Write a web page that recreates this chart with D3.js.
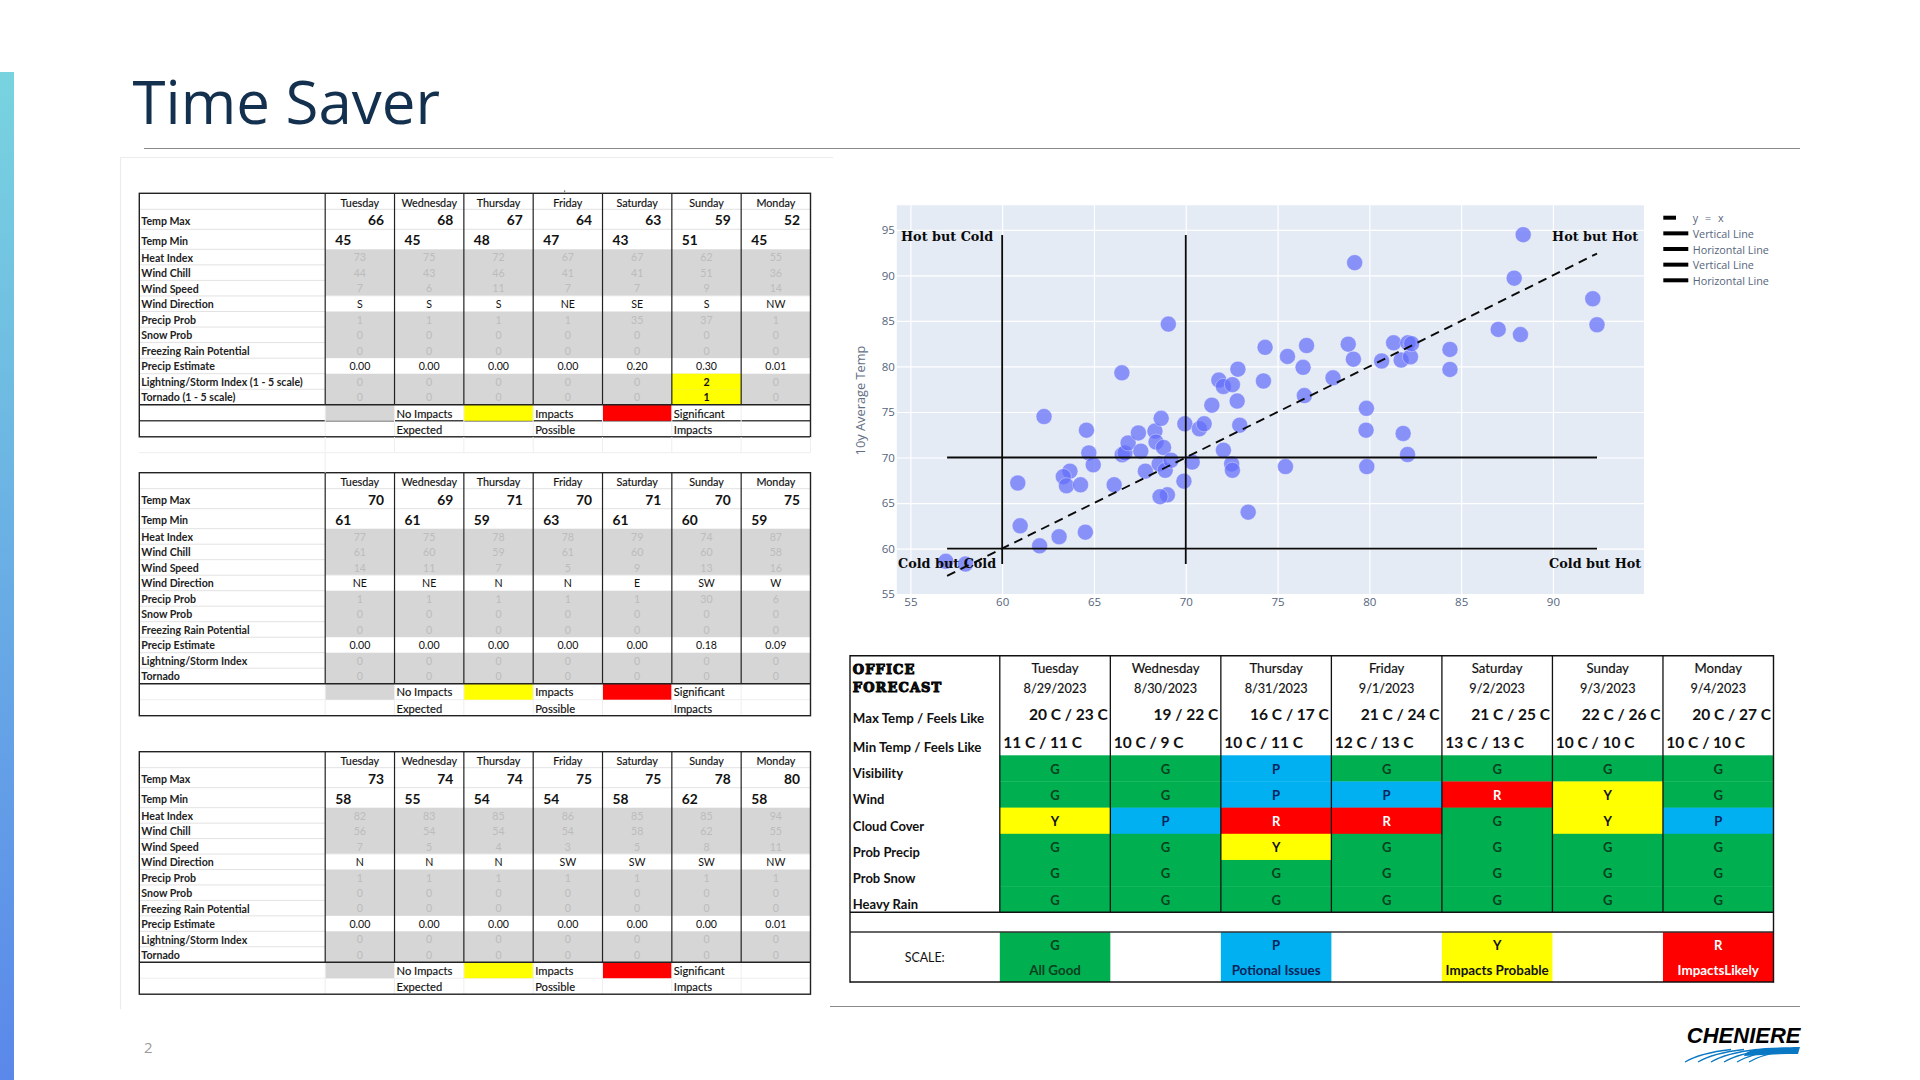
<!DOCTYPE html>
<html>
<head>
<meta charset="utf-8">
<title>Time Saver</title>
<script src="https://cdn.jsdelivr.net/npm/d3@7/dist/d3.min.js"></script>
<style>
html,body{margin:0;padding:0;background:#fff;overflow:hidden}
svg{display:block}
text{white-space:pre}
</style>
</head>
<body>
<svg id="c" width="1920" height="1080" viewBox="0 0 1920 1080"></svg>
<script>
// ---------- weekly tables ----------
const days = ["Tuesday","Wednesday","Thursday","Friday","Saturday","Sunday","Monday"];
const rowLabelsA = ["Heat Index","Wind Chill","Wind Speed","Wind Direction","Precip Prob","Snow Prob","Freezing Rain Potential","Precip Estimate","Lightning/Storm Index (1 - 5 scale)","Tornado (1 - 5 scale)"];
const rowLabelsB = ["Heat Index","Wind Chill","Wind Speed","Wind Direction","Precip Prob","Snow Prob","Freezing Rain Potential","Precip Estimate","Lightning/Storm Index","Tornado"];

const w1Max = [66,68,67,64,63,59,52];
const w1Min = [45,45,48,47,43,51,45];
const w1Heat = [73,75,72,67,67,62,55];
const w1Chill = [44,43,46,41,41,51,36];
const w1Speed = [7,6,11,7,7,9,14];
const w1Dir = ["S","S","S","NE","SE","S","NW"];
const w1Prob = [1,1,1,1,35,37,1];
const w1Snow = [0,0,0,0,0,0,0];
const w1Frz = [0,0,0,0,0,0,0];
const w1Est = ["0.00","0.00","0.00","0.00","0.20","0.30","0.01"];
const w1Light = [0,0,0,0,0,2,0];
const w1Torn = [0,0,0,0,0,1,0];

const w2Max = [70,69,71,70,71,70,75];
const w2Min = [61,61,59,63,61,60,59];
const w2Heat = [77,75,78,78,79,74,87];
const w2Chill = [61,60,59,61,60,60,58];
const w2Speed = [14,11,7,5,9,13,16];
const w2Dir = ["NE","NE","N","N","E","SW","W"];
const w2Prob = [1,1,1,1,1,30,6];
const w2Snow = [0,0,0,0,0,0,0];
const w2Frz = [0,0,0,0,0,0,0];
const w2Est = ["0.00","0.00","0.00","0.00","0.00","0.18","0.09"];
const w2Light = [0,0,0,0,0,0,0];
const w2Torn = [0,0,0,0,0,0,0];

const w3Max = [73,74,74,75,75,78,80];
const w3Min = [58,55,54,54,58,62,58];
const w3Heat = [82,83,85,86,85,85,94];
const w3Chill = [56,54,54,54,58,62,55];
const w3Speed = [7,5,4,3,5,8,11];
const w3Dir = ["N","N","N","SW","SW","SW","NW"];
const w3Prob = [1,1,1,1,1,1,1];
const w3Snow = [0,0,0,0,0,0,0];
const w3Frz = [0,0,0,0,0,0,0];
const w3Est = ["0.00","0.00","0.00","0.00","0.00","0.00","0.01"];
const w3Light = [0,0,0,0,0,0,0];
const w3Torn = [0,0,0,0,0,0,0];

// ---------- scatter ----------
const scatterX = [56.93,58.0,60.98,60.85,62.04,63.1,64.53,62.28,64.59,64.72,64.96,63.69,63.33,63.5,64.27,66.1,66.54,66.69,66.86,67.42,67.55,67.8,68.32,68.38,68.66,68.79,68.55,68.88,69.2,69.0,68.6,69.9,69.95,70.35,70.74,71.0,72.05,72.5,72.54,73.4,72.94,75.43,79.82,79.84,79.86,71.42,72.8,72.84,71.8,72.05,72.54,74.23,74.32,75.54,76.39,76.58,76.46,78.02,78.85,79.13,79.2,80.67,69.05,66.52,81.32,81.73,82.24,82.1,82.3,84.39,84.39,87.02,88.23,87.89,88.38,92.17,92.4,81.84,82.08];
const scatterY = [58.6,58.3,62.5,67.2,60.3,61.3,61.8,74.5,73.0,70.5,69.2,68.5,67.9,66.9,67.0,67.0,70.3,70.5,71.6,72.7,70.7,68.5,72.9,71.7,74.3,71.1,69.3,68.6,69.7,65.9,65.7,67.4,73.7,69.5,73.15,73.7,70.8,69.3,68.6,64.0,73.55,69.0,73.0,75.4,69.0,75.75,76.2,79.7,78.5,77.8,78.0,78.4,82.1,81.1,79.9,82.3,76.8,78.75,82.45,80.8,91.4,80.6,84.65,79.3,82.6,80.7,81.06,82.6,82.5,81.87,79.67,84.07,83.5,89.7,94.47,87.44,84.58,72.64,70.33];
const xTicks = [55,60,65,70,75,80,85,90];
const yTicks = [55,60,65,70,75,80,85,90,95];
const verticalLines = [60,70];
const horizontalLines = [70,60];
const lineStart = 57, lineEnd = 92.4, vLow = 58.3, vHigh = 94.45;
const quadrantLabels = ["Hot but Cold","Hot but Hot","Cold but Cold","Cold but Hot"];
const quadrantX = [57,92.3,57,92.3];
const quadrantY = [94.3,94.3,58.4,58.4];
const legendLabels = ["y = x","Vertical Line","Horizontal Line","Vertical Line","Horizontal Line"];

// ---------- office forecast ----------
const officeDates = ["8/29/2023","8/30/2023","8/31/2023","9/1/2023","9/2/2023","9/3/2023","9/4/2023"];
const maxFeels = ["20 C / 23 C","19 / 22 C","16 C / 17 C","21 C / 24 C","21 C / 25 C","22 C / 26 C","20 C / 27 C"];
const minFeels = ["11 C / 11 C","10 C / 9 C","10 C / 11 C","12 C / 13 C","13 C / 13 C","10 C / 10 C","10 C / 10 C"];
const impactRows = ["Visibility","Wind","Cloud Cover","Prob Precip","Prob Snow","Heavy Rain"];
const visibility = ["G","G","P","G","G","G","G"];
const wind = ["G","G","P","P","R","Y","G"];
const cloud = ["Y","P","R","R","G","Y","P"];
const precip = ["G","G","Y","G","G","G","G"];
const snow = ["G","G","G","G","G","G","G"];
const rain = ["G","G","G","G","G","G","G"];
const scaleCodes = ["G","P","Y","R"];
const scaleNames = ["All Good","Potional Issues","Impacts Probable","ImpactsLikely"];
const scaleColumns = [0,2,4,6];

// ---------- drawing ----------
const svg = d3.select("#c");
const cal = "Lato, Carlito, Calibri, sans-serif";
const T = (g,x,y,s,o={}) => g.append("text").attr("x",x).attr("y",y).attr("dominant-baseline","central")
  .attr("font-family",o.f||cal).attr("font-size",o.s||11).attr("font-weight",o.w||400)
  .attr("fill",o.c||"#111").attr("text-anchor",o.a||"start").text(s);
const L = (g,x1,y1,x2,y2,c,w) => g.append("line").attr("x1",x1).attr("y1",y1).attr("x2",x2).attr("y2",y2).attr("stroke",c).attr("stroke-width",w);

// slide furniture
const grad = svg.append("defs").append("linearGradient").attr("id","bar").attr("x1",0).attr("x2",0).attr("y1",0).attr("y2",1);
grad.append("stop").attr("offset","0").attr("stop-color","#78d3df");
grad.append("stop").attr("offset","1").attr("stop-color","#5a88ea");
svg.append("rect").attr("x",0).attr("y",72).attr("width",14).attr("height",1008).attr("fill","url(#bar)");
svg.append("text").attr("x",132.5).attr("y",124).attr("font-family","'Open Sans',sans-serif").attr("font-size",60)
  .attr("fill","#13304e").text("Time Saver");
L(svg,144,148.5,1800,148.5,"#8a8a8a",1.2);
L(svg,830,1006.5,1800,1006.5,"#8a8a8a",1.2);
L(svg,121,157.5,833,157.5,"#ececec",1.2);
L(svg,120.5,157,120.5,1009,"#ececec",1.2);
svg.append("text").attr("x",144).attr("y",1053).attr("font-family","'Open Sans',sans-serif").attr("font-size",15).attr("fill","#9a9a9a").text("2");
svg.append("rect").attr("x",564).attr("y",190.5).attr("width",1.2).attr("height",1.2).attr("fill","#444");

// logo
const logo = svg.append("g");
logo.append("text").attr("x",1800.5).attr("y",1043).attr("text-anchor","end").attr("font-family","'Liberation Sans',Arial,sans-serif")
  .attr("font-style","italic").attr("font-weight",700).attr("font-size",22).attr("fill","#000").text("CHENIERE");
logo.append("path").attr("fill","#0b78c4").attr("d","M1800 1047 L1798 1054 C1780 1054 1762 1054.5 1744 1056 C1745 1052 1752 1049 1765 1048 C1778 1047.3 1790 1047.2 1800 1047 Z");
[1685,1698,1711,1724,1737,1749].forEach(sx=>{
  logo.append("path").attr("fill","none").attr("stroke","#0b78c4").attr("stroke-width",1.3)
    .attr("d",`M${sx} 1062 C${sx+10} 1056 ${sx+24} 1052 ${sx+46} 1049.5`);
});

// weekly table drawing
const colX = d3.scaleLinear().domain([0,7]).range([325.2,810.5]);
const tableLeft = 139.3, tableRight = 810.5;
const grey = "#d6d6d6";
function weekTable(top, rowsOut, labels, maxV, minV, opts){
  const g = svg.append("g");
  const h = top+16, r1 = top+36, r2 = top+56;
  const rowH = opts.rowH||15.55;
  const rowY = d3.scaleLinear().domain([0,10]).range([r2, r2+rowH*10]);
  const end = rowY(10), end1 = end+16, end2 = end+32;
  // shaded rows
  const shaded = [[0,3],[4,7],[8,10]];
  shaded.forEach(([a,b])=>g.append("rect").attr("x",colX(0)).attr("y",rowY(a)).attr("width",colX(7)-colX(0)).attr("height",rowY(b)-rowY(a)).attr("fill",grey));
  // faint row lines
  [h,r1,r2].concat(d3.range(1,10).map(rowY)).forEach(y=>L(g,tableLeft,y,colX(0),y,"#e2e2e2",1));
  [h,r1].forEach(y=>L(g,colX(0),y,colX(7),y,"#e2e2e2",1));
  L(g,colX(0),rowY(3),colX(7),rowY(3),"#eeeeee",1);
  L(g,tableLeft,end1,tableRight,end1,opts.midDark?"#444":"#eeeeee",opts.midDark?1.5:1);
  // legend cells
  g.append("rect").attr("x",colX(0)).attr("y",end).attr("width",colX(1)-colX(0)).attr("height",16).attr("fill",grey);
  g.append("rect").attr("x",colX(2)).attr("y",end).attr("width",colX(3)-colX(2)).attr("height",16).attr("fill","#ffff00");
  g.append("rect").attr("x",colX(4)).attr("y",end).attr("width",colX(5)-colX(4)).attr("height",16).attr("fill","#ff0000");
  // hot cells
  rowsOut[8].forEach((v,i)=>{ if(v>0) g.append("rect").attr("x",colX(i)).attr("y",rowY(8)).attr("width",colX(1)-colX(0)).attr("height",rowH).attr("fill","#ffff00"); });
  rowsOut[9].forEach((v,i)=>{ if(v>0) g.append("rect").attr("x",colX(i)).attr("y",rowY(9)).attr("width",colX(1)-colX(0)).attr("height",rowH).attr("fill","#ffff00"); });
  // column lines
  d3.range(0,7).forEach(i=>{
    L(g,colX(i),top,colX(i),end,"#222",1.2);
    L(g,colX(i),end,colX(i),end2,"#eeeeee",1);
  });
  L(g,tableLeft,end,tableRight,end,"#222",1.5);
  g.append("rect").attr("x",tableLeft).attr("y",top).attr("width",tableRight-tableLeft).attr("height",end2-top)
    .attr("fill","none").attr("stroke","#222").attr("stroke-width",1.4);
  // header & temps
  days.forEach((d,i)=>{
    const cx = (colX(i)+colX(i+1))/2;
    T(g,cx,top+9,d,{a:"middle",s:10.8}).attr("stroke","#111").attr("stroke-width",.15);
    T(g,colX(i+1)-10.5,top+26.5,maxV[i],{a:"end",s:13.8,w:700});
    T(g,colX(i)+10,top+46.5,minV[i],{s:13.8,w:700});
  });
  T(g,tableLeft+2,top+27.5,"Temp Max",{s:10.6,w:700,c:"#222"});
  T(g,tableLeft+2,top+47.5,"Temp Min",{s:10.6,w:700,c:"#222"});
  labels.forEach((s,j)=>T(g,tableLeft+2,rowY(j)+8.2,s,{s:10.6,w:700,c:"#222"}));
  rowsOut.forEach((row,j)=>row.forEach((v,i)=>{
    const cx = (colX(i)+colX(i+1))/2;
    const plain = j===3||j===7;
    const hot = (j===8||j===9)&&v>0;
    T(g,cx,rowY(j)+8,v,{a:"middle",s:10.6,c:plain?"#111":(hot?"#111":"#bcbcbc"),w:hot?700:400});
  }));
  [["No Impacts","Expected",1],["Impacts","Possible",3],["Significant","Impacts",5]].forEach(([a,b,c])=>{
    T(g,colX(c)+2,end+8.2,a,{s:11.2,w:400}).attr("stroke","#111").attr("stroke-width",.15);
    T(g,colX(c)+2,end+24.5,b,{s:11.2,w:400}).attr("stroke","#111").attr("stroke-width",.15);
  });
}
weekTable(193.3,[w1Heat,w1Chill,w1Speed,w1Dir,w1Prob,w1Snow,w1Frz,w1Est,w1Light,w1Torn],rowLabelsA,w1Max,w1Min,{midDark:true});
weekTable(472.7,[w2Heat,w2Chill,w2Speed,w2Dir,w2Prob,w2Snow,w2Frz,w2Est,w2Light,w2Torn],rowLabelsB,w2Max,w2Min,{rowH:15.5});
weekTable(751.7,[w3Heat,w3Chill,w3Speed,w3Dir,w3Prob,w3Snow,w3Frz,w3Est,w3Light,w3Torn],rowLabelsB,w3Max,w3Min,{rowH:15.45});
// faint spreadsheet grid between tables 1 and 2
L(svg,139,452.7,810,452.7,"#eeeeee",1);
d3.range(0,8).forEach(i=>L(svg,colX(i),437,colX(i),452.7,"#eeeeee",1));
L(svg,colX(0),452.7,colX(0),472.7,"#eeeeee",1);

// scatter
const px = d3.scaleLinear().domain([54.26,94.96]).range([896.8,1644]);
const py = d3.scaleLinear().domain([54.9,97.7]).range([595,205.3]);
const plot = svg.append("g");
plot.append("rect").attr("x",896.8).attr("y",205.3).attr("width",1644-896.8).attr("height",595-205.3).attr("fill","#e4ebf5");
const tickFont = "'Open Sans',sans-serif";
const ax = plot.append("g").attr("transform","translate(0,595)").call(d3.axisBottom(px).tickValues(xTicks).tickSize(-(595-205.3)).tickPadding(3));
const ay = plot.append("g").attr("transform","translate(896.8,0)").call(d3.axisLeft(py).tickValues(yTicks).tickSize(-(1644-896.8)).tickPadding(2));
[ax,ay].forEach(a=>{
  a.select(".domain").remove();
  a.selectAll("line").attr("stroke","#fff").attr("stroke-width",1.2);
  a.selectAll("text").attr("fill","#55657c").attr("font-family",tickFont).attr("font-size",11.5);
});
plot.append("text").attr("transform","translate(860,400.5) rotate(-90)").attr("text-anchor","middle").attr("dominant-baseline","central")
  .attr("font-family",tickFont).attr("font-size",12.8).attr("fill","#5f6e84").text("10y Average Temp");
// points
plot.append("g").selectAll("circle").data(scatterX).join("circle")
  .attr("cx",d=>px(d)).attr("cy",(d,i)=>py(scatterY[i])).attr("r",8)
  .attr("fill","#636efa").attr("fill-opacity",.72).attr("stroke","#fff").attr("stroke-opacity",.6).attr("stroke-width",.6);
// reference lines
const lineColour = "#0a0a0a";
plot.append("path").attr("d",d3.line().x(d=>px(d)).y(d=>py(d))([lineStart,lineEnd]))
  .attr("stroke",lineColour).attr("stroke-width",1.9).attr("stroke-dasharray","9 6").attr("fill","none");
verticalLines.forEach(v=>L(plot,px(v),py(vLow),px(v),py(vHigh),lineColour,1.8));
horizontalLines.forEach(v=>L(plot,px(lineStart),py(v),px(lineEnd),py(v),lineColour,1.8));
quadrantLabels.forEach((s,i)=>T(plot,px(quadrantX[i]),py(quadrantY[i]),s,{a:"middle",f:"'DejaVu Serif',serif",w:700,s:12.8,c:"#0a0a0a"}));
// legend
legendLabels.forEach((s,i)=>{
  const y = 217.7+i*15.65;
  L(svg,1663.3,y,i===0?1676:1688.3,y,"#000",4);
  T(svg,1692.7,y,s,{f:tickFont,s:10.8,c:"#55657c"}).style("letter-spacing",i===0?"2px":"0");
});

// office forecast
const of = svg.append("g");
const oX = d3.scaleLinear().domain([0,7]).range([999.8,1773.5]);
const oLeft = 850;
const oY = d3.scaleLinear().domain([0,6]).range([755.3,912.3]);
const codeFill = {G:"#00b050",P:"#00b0f0",Y:"#ffff00",R:"#ff0000"};
const codeText = {G:"#07401f",P:"#07245c",Y:"#111",R:"#fff"};
const impacts = [visibility,wind,cloud,precip,snow,rain];
impacts.forEach((row,j)=>row.forEach((c,i)=>{
  of.append("rect").attr("x",oX(i)).attr("y",oY(j)).attr("width",oX(1)-oX(0)+.3).attr("height",oY(1)-oY(0)+.3).attr("fill",codeFill[c]);
  T(of,(oX(i)+oX(i+1))/2,oY(j)+13.5,c,{a:"middle",s:13,w:700,c:codeText[c]});
}));
scaleCodes.forEach((c,k)=>{
  const col = scaleColumns[k];
  of.append("rect").attr("x",oX(col)).attr("y",932).attr("width",oX(1)-oX(0)).attr("height",50).attr("fill",codeFill[c]);
  const cx=(oX(col)+oX(col+1))/2;
  T(of,cx,945.3,c,{a:"middle",s:13,w:700,c:codeText[c]});
  T(of,cx,970.3,scaleNames[k],{a:"middle",s:13.4,w:700,c:codeText[c]});
});
T(of,924.7,957.3,"SCALE:",{a:"middle",s:12.4});
const rowLabelY = [773.3,799,825.7,851.7,878,903.7];
impactRows.forEach((s,j)=>T(of,852.8,rowLabelY[j],s,{s:13,w:700,c:"#111"}));
T(of,852.8,718,"Max Temp / Feels Like",{s:13.3,w:700});
T(of,852.8,747,"Min Temp / Feels Like",{s:13.3,w:700});
const ofc = (y,s)=>T(of,852.8,y,s,{f:"'DejaVu Serif',serif",w:700,s:13}).attr("stroke","#000").attr("stroke-width",1).style("letter-spacing","1.1px");
ofc(669,"OFFICE"); ofc(687,"FORECAST");
days.forEach((d,i)=>{
  const cx=(oX(i)+oX(i+1))/2;
  T(of,cx,667.5,d,{a:"middle",s:13.2,w:400}).attr("stroke","#111").attr("stroke-width",.2);
  T(of,cx,688,officeDates[i],{a:"middle",s:12.7,w:400}).attr("stroke","#111").attr("stroke-width",.15);
  T(of,oX(i+1)-2.5,713.5,maxFeels[i],{a:"end",s:15.5,w:700});
  T(of,oX(i)+3.4,742,minFeels[i],{s:15.5,w:700});
});
d3.range(0,7).forEach(i=>L(of,oX(i),655.7,oX(i),912.3,"#111",1.3));
L(of,oLeft,655.7,oX(7),655.7,"#111",1.4);
L(of,oLeft,912.3,oX(7),912.3,"#111",1.4);
L(of,oLeft,932,oX(7),932,"#333",1.4);
L(of,oLeft,982,oX(7),982,"#111",1.4);
L(of,oLeft,655,oLeft,982.7,"#111",1.4);
L(of,oX(7),655,oX(7),982.7,"#111",1.4);
</script>
</body>
</html>
